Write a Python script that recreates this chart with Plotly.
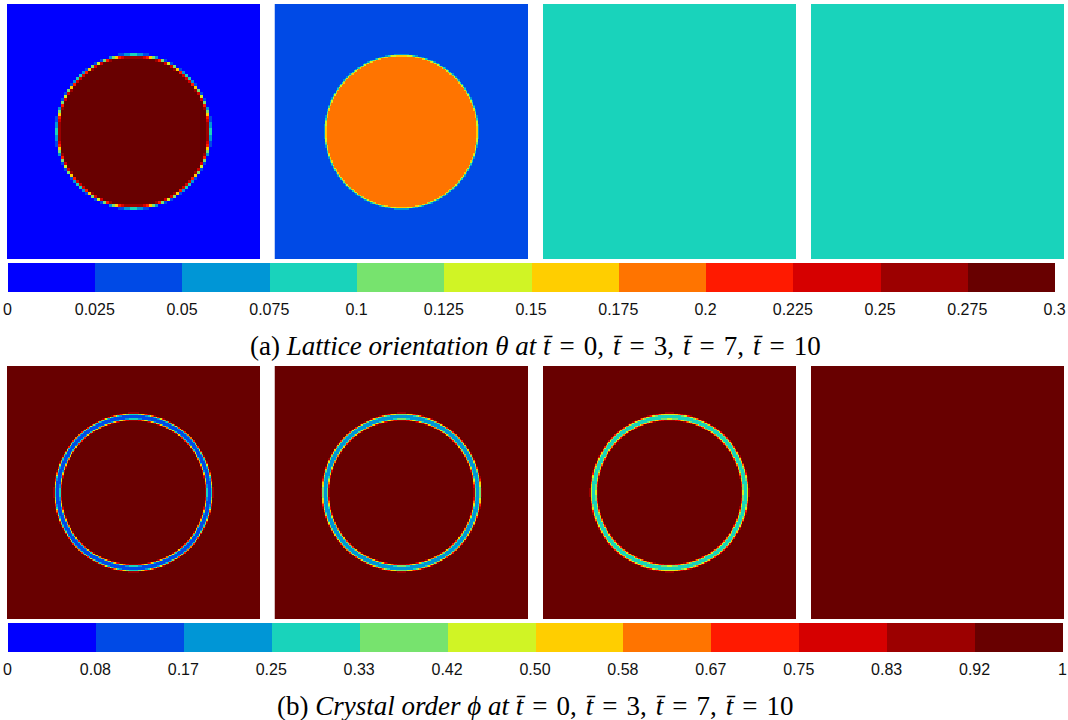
import numpy as np
import plotly.graph_objects as go

# ---------------- data ----------------
times = [0, 3, 7, 10]
# lattice orientation theta: value inside the grain / in the surrounding matrix
theta_grain = [0.30, 0.19, 0.09, 0.09]
theta_matrix = [0.00, 0.04, 0.09, 0.09]
# crystal order phi: minimum value reached on the grain boundary ring (1 = no ring)
phi_ring_min = [0.10, 0.18, 0.28, 1.00]
grain_radius = 0.30
theta_cells = [84, 170, 170, 170]
phi_cells = [170, 170, 170, 170]

theta_ticks = [0, 0.025, 0.05, 0.075, 0.1, 0.125, 0.15, 0.175, 0.2, 0.225, 0.25, 0.275, 0.3]
theta_ticktext = ["0", "0.025", "0.05", "0.075", "0.1", "0.125", "0.15", "0.175", "0.2",
                  "0.225", "0.25", "0.275", "0.3"]
phi_ticks = [i / 12 for i in range(13)]
phi_ticktext = ["0", "0.08", "0.17", "0.25", "0.33", "0.42", "0.50", "0.58", "0.67",
                "0.75", "0.83", "0.92", "1"]

level_colors = ["#0000FF", "#004AE6", "#0096D6", "#19D3BB", "#77E36E", "#D0F425",
                "#FFCE00", "#FF7400", "#FF1A00", "#D60000", "#9C0000", "#680000"]

# ---------------- helpers ----------------
W, H = 1068, 720
discrete = []
for i, c in enumerate(level_colors):
    discrete.append([i / 12, c])
    discrete.append([(i + 1) / 12, c])


def grid(n):
    c = (np.arange(n) + 0.5) / n
    X, Y = np.meshgrid(c, c)
    return c, np.sqrt((X - 0.5) ** 2 + (Y - 0.5) ** 2)


def theta_field(k):
    n = theta_cells[k]
    c, r = grid(n)
    w = 0.6 / n if k == 0 else 0.0035
    s = 0.5 * (1 - np.tanh((r - grain_radius) / w))
    return c, np.round(theta_matrix[k] + (theta_grain[k] - theta_matrix[k]) * s, 4)


def phi_field(k):
    n = phi_cells[k]
    c, r = grid(n)
    w = 0.0125
    return c, np.round(1 - (1 - phi_ring_min[k]) * np.exp(-((r - grain_radius) / w) ** 4), 4)


panel_x = [(7, 260), (274.5, 528), (543, 796), (811, 1064)]
row_y = [(4, 259), (366, 619)]

fig = go.Figure()
ax = 0
for row in range(2):
    for k in range(4):
        ax += 1
        sfx = str(ax) if ax > 1 else ""
        c, z = theta_field(k) if row == 0 else phi_field(k)
        fig.add_trace(go.Heatmap(
            x=c, y=c, z=z,
            coloraxis="coloraxis" if row == 0 else "coloraxis2",
            xaxis="x" + sfx, yaxis="y" + sfx,
            hoverinfo="skip",
        ))
        x0, x1 = panel_x[k]
        y0, y1 = row_y[row]
        axis_style = dict(showgrid=False, zeroline=False, showticklabels=False,
                          ticks="", showline=False, range=[0, 1], fixedrange=True)
        fig.layout["xaxis" + sfx] = dict(domain=[x0 / W, x1 / W], anchor="y" + sfx, **axis_style)
        fig.layout["yaxis" + sfx] = dict(domain=[1 - y1 / H, 1 - y0 / H], anchor="x" + sfx,
                                         **axis_style)


def cbar(x0, x1, ytop, vals, text):
    return dict(
        orientation="h", lenmode="pixels", len=x1 - x0, thicknessmode="pixels",
        thickness=29, x=x0 / W, xanchor="left", xref="paper",
        y=1 - ytop / H, yanchor="top", yref="paper", xpad=0, ypad=0,
        outlinewidth=0, tickmode="array", tickvals=vals, ticktext=text,
        ticks="outside", ticklen=4, tickcolor="rgba(0,0,0,0)",
        tickfont=dict(family="Liberation Sans, Arial, sans-serif", size=16, color="#111111"),
    )


fig.update_layout(
    width=W, height=H, margin=dict(l=0, r=0, t=0, b=0),
    paper_bgcolor="white", plot_bgcolor="white", showlegend=False,
    coloraxis=dict(colorscale=discrete, cmin=0, cmax=0.3,
                   colorbar=cbar(7.5, 1054, 263, theta_ticks, theta_ticktext)),
    coloraxis2=dict(colorscale=discrete, cmin=0, cmax=1,
                    colorbar=cbar(7.5, 1062, 623, phi_ticks, phi_ticktext)),
)

tb = "<i>t̄</i>"
eq = "\u2004=\u2004"
sep = ",\u2004"
cap_a = (f"(a) <i>Lattice orientation θ at t̄</i>{eq}{times[0]}{sep}{tb}{eq}{times[1]}{sep}"
         f"{tb}{eq}{times[2]}{sep}{tb}{eq}{times[3]}")
cap_b = (f"(b) <i>Crystal order ϕ at t̄</i>{eq}{times[0]}{sep}{tb}{eq}{times[1]}{sep}"
         f"{tb}{eq}{times[2]}{sep}{tb}{eq}{times[3]}")
for txt, yc in [(cap_a, 346), (cap_b, 706)]:
    fig.add_annotation(text=txt, xref="paper", yref="paper", x=535 / W, y=1 - yc / H,
                       xanchor="center", yanchor="middle", showarrow=False,
                       font=dict(family="Liberation Serif, Times New Roman, serif",
                                 size=27, color="black"))

fig.write_html("out.html", config={"displayModeBar": False},
               post_script="document.body.style.margin='0';"
                           "document.body.style.overflow='hidden';")
